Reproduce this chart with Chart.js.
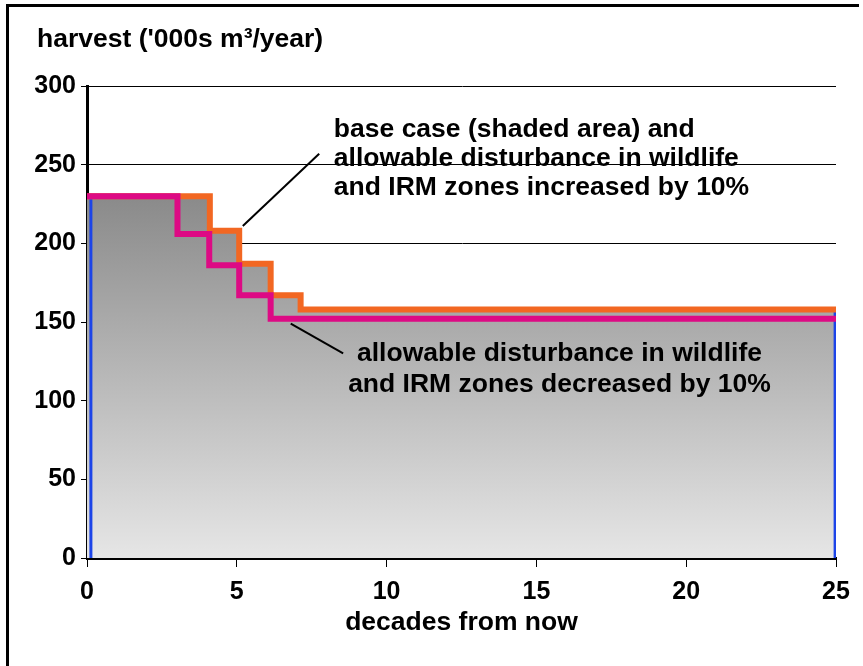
<!DOCTYPE html>
<html lang="en">
<head>
<meta charset="UTF-8">
<title>Harvest sensitivity</title>
<script src="https://cdn.jsdelivr.net/npm/chart.js"></script>
<style>
  body { margin: 0; background: #fff; }
  .wrap { position: relative; width: 863px; height: 666px; }
  .frame { position: absolute; left: 6px; top: 4px; width: 853px; height: 662px; box-sizing: border-box;
           border-top: 3px solid #000; border-left: 3px solid #000; pointer-events: none; }
  canvas { display: block; }
</style>
</head>
<body>
<div class="wrap">
  <canvas id="harvestChart" width="863" height="666"></canvas>
  <div class="frame"></div>
</div>
<script>
// base case (= +10% disturbance): decade each level starts at, harvest in '000s m3/yr
const baseDecades = [0, 4.1, 5.08, 6.13, 7.13, 25];
const baseHarvest = [230, 208, 187, 167, 158, 158];
// allowable disturbance decreased by 10%
const lowDecades = [0, 3.02, 4.08, 5.08, 6.13, 25];
const lowHarvest = [230, 206, 186, 167, 152, 152];
// blue verticals closing the shaded area
const edgeDecades = [0.13, 24.97];

const yTitle = "harvest ('000s m³/year)";
const xTitle = 'decades from now';
const upNote = ['base case (shaded area) and', 'allowable disturbance in wildlife', 'and IRM zones increased by 10%'];
const downNote = ['allowable disturbance in wildlife', 'and IRM zones decreased by 10%'];
// [decade, harvest] anchors for notes and their leader lines
const upNoteAt = [8.24, 267.6];
const downNoteAt = [15.77, 125.2];
const upLeader = [[5.2, 211], [7.75, 257]];
const downLeader = [[6.8, 149], [8.55, 130]];

const FAMILY = '"Liberation Sans", Arial, sans-serif';
const pts = (xs, ys) => xs.map((v, i) => ({ x: v, y: ys[i] }));
const seg = p => p.map(([x, y]) => ({ x, y }));

const notesPlugin = {
    id: 'notes',
    afterDatasetsDraw(chart) {
        const { ctx, scales: { x, y } } = chart;
        ctx.save();
        ctx.fillStyle = '#000';
        ctx.font = 'bold 26.5px ' + FAMILY;
        ctx.textBaseline = 'alphabetic';
        ctx.textAlign = 'left';
        ctx.fillText(yTitle, 37, 47);
        upNote.forEach((t, i) => {
            ctx.fillText(t, x.getPixelForValue(upNoteAt[0]), y.getPixelForValue(upNoteAt[1]) + i * 29);
        });
        ctx.textAlign = 'center';
        downNote.forEach((t, i) => {
            ctx.fillText(t, x.getPixelForValue(downNoteAt[0]), y.getPixelForValue(downNoteAt[1]) + i * 31);
        });
        ctx.restore();
    }
};

function shade(c) {
    const { ctx, chartArea, scales } = c.chart;
    if (!chartArea) return '#aaa';
    const g = ctx.createLinearGradient(0, scales.y.getPixelForValue(baseHarvest[0]), 0, chartArea.bottom);
    g.addColorStop(0, '#8a8a8a');
    g.addColorStop(1, '#e6e6e6');
    return g;
}

const tickFont = { family: FAMILY, size: 25, weight: 'bold' };

new Chart(document.getElementById('harvestChart'), {
    type: 'line',
    data: {
        datasets: [
            { label: 'leader up', data: seg(upLeader), borderColor: '#000', borderWidth: 2, order: 0 },
            { label: 'leader down', data: seg(downLeader), borderColor: '#000', borderWidth: 2, order: 0 },
            { label: 'decreased 10%', data: pts(lowDecades, lowHarvest), stepped: 'before',
              borderColor: '#dd0a84', borderWidth: 6, borderJoinStyle: 'miter', order: 1 },
            { label: 'increased 10%', data: pts(baseDecades, baseHarvest), stepped: 'before',
              borderColor: '#f26722', borderWidth: 6, borderJoinStyle: 'miter', order: 2 },
            { label: 'edge left', data: [{ x: edgeDecades[0], y: 0 }, { x: edgeDecades[0], y: baseHarvest[0] }],
              borderColor: '#1c44e8', borderWidth: 3, order: 3 },
            { label: 'edge right', data: [{ x: edgeDecades[1], y: 0 }, { x: edgeDecades[1], y: baseHarvest[baseHarvest.length - 1] }],
              borderColor: '#1c44e8', borderWidth: 3, order: 3 },
            { label: 'base case', data: pts(baseDecades, baseHarvest), stepped: 'before',
              fill: 'origin', backgroundColor: shade, borderWidth: 0, order: 4 }
        ]
    },
    options: {
        responsive: false,
        animation: false,
        events: [],
        layout: { padding: { top: 86, right: 27, left: 0, bottom: 0 } },
        elements: { point: { radius: 0 }, line: { tension: 0 } },
        plugins: { legend: { display: false }, tooltip: { enabled: false } },
        scales: {
            x: {
                type: 'linear', min: 0, max: 25,
                ticks: { stepSize: 5, color: '#000', font: tickFont, padding: 10, maxRotation: 0 },
                grid: { drawOnChartArea: false, drawTicks: true, tickLength: 9, color: '#000', lineWidth: 1 },
                border: { display: true, color: '#000', width: 3 },
                title: { display: true, text: xTitle, color: '#000',
                         font: { family: FAMILY, size: 26.5, weight: 'bold' }, padding: { top: 0, bottom: 27.6 } },
                afterFit(s) { s.height = 108; }
            },
            y: {
                min: 0, max: 300,
                ticks: { stepSize: 50, color: '#000', font: tickFont, padding: 5 },
                grid: { color: '#000', lineWidth: 1, tickLength: 6 },
                border: { display: true, color: '#000', width: 3 },
                afterFit(s) { s.width = 87; }
            }
        }
    },
    plugins: [notesPlugin]
});
</script>
</body>
</html>
